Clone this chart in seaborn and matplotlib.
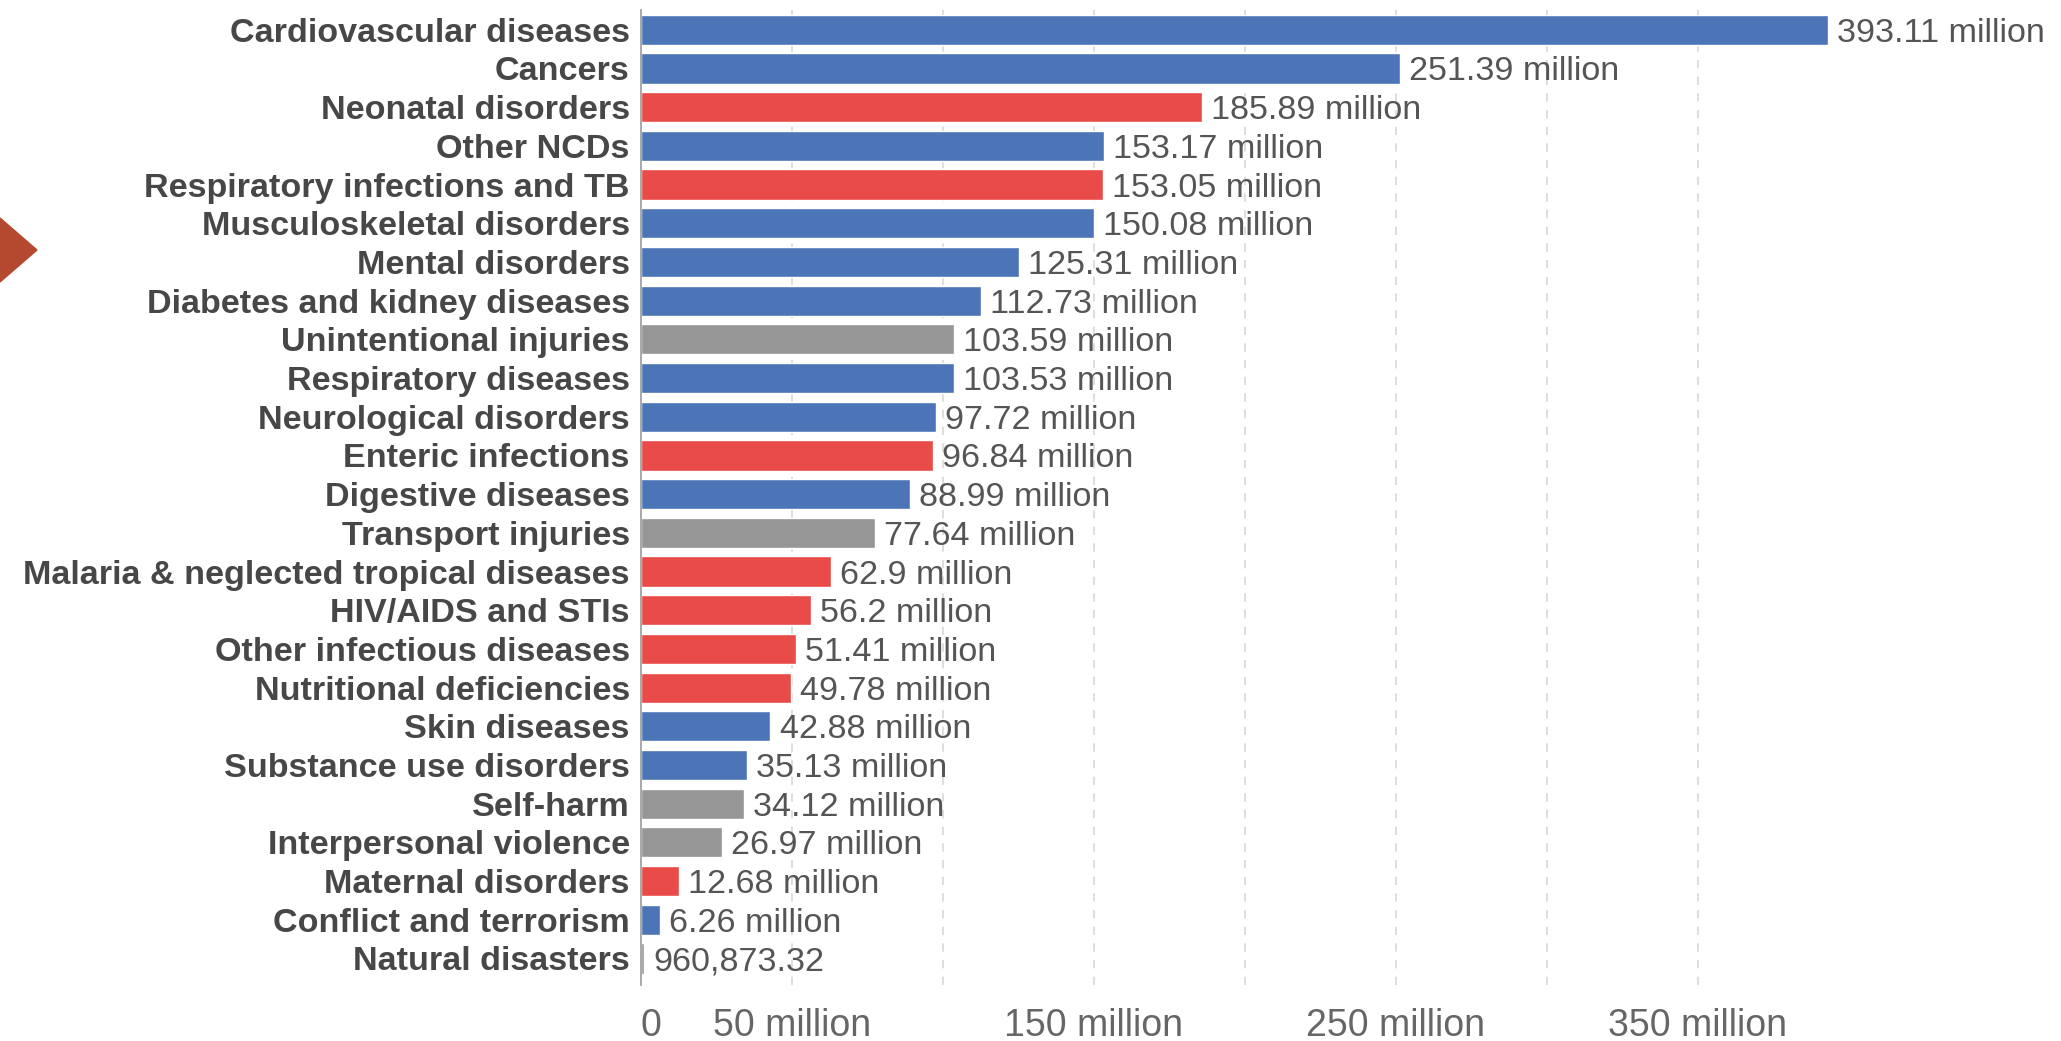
import numpy as np
import pandas as pd
import matplotlib.pyplot as plt
from matplotlib.patches import Polygon
import seaborn as sns

# causes and DALYs (millions)
causes = [
    'Cardiovascular diseases', 'Cancers', 'Neonatal disorders', 'Other NCDs',
    'Respiratory infections and TB', 'Musculoskeletal disorders',
    'Mental disorders', 'Diabetes and kidney diseases',
    'Unintentional injuries', 'Respiratory diseases', 'Neurological disorders',
    'Enteric infections', 'Digestive diseases', 'Transport injuries',
    'Malaria & neglected tropical diseases', 'HIV/AIDS and STIs',
    'Other infectious diseases', 'Nutritional deficiencies', 'Skin diseases',
    'Substance use disorders', 'Self-harm', 'Interpersonal violence',
    'Maternal disorders', 'Conflict and terrorism', 'Natural disasters',
]
dalys_millions = [
    393.11, 251.39, 185.89, 153.17, 153.05, 150.08, 125.31, 112.73,
    103.59, 103.53, 97.72, 96.84, 88.99, 77.64, 62.9, 56.2, 51.41, 49.78,
    42.88, 35.13, 34.12, 26.97, 12.68, 6.26, 0.96087332,
]
groups = [
    'ncd', 'ncd', 'comm', 'ncd', 'comm', 'ncd', 'ncd', 'ncd',
    'inj', 'ncd', 'ncd', 'comm', 'ncd', 'inj', 'comm', 'comm', 'comm', 'comm',
    'ncd', 'ncd', 'inj', 'inj', 'comm', 'ncd', 'inj',
]
tick_values = [0, 50, 100, 150, 200, 250, 300, 350]
tick_labels = ['0', '50 million', '', '150 million', '', '250 million', '', '350 million']

palette = {'ncd': '#4b75b6', 'comm': '#e84b48', 'inj': '#969696'}

df = pd.DataFrame({'cause': causes, 'dalys': dalys_millions, 'group': groups})


def fmt(v):
    if v < 1:
        return f'{v * 1e6:,.2f}'
    s = f'{v:.2f}'.rstrip('0').rstrip('.')
    return f'{s} million'


sns.set_style('white')
plt.rcParams['font.family'] = ['Liberation Sans', 'DejaVu Sans']

fig = plt.figure(figsize=(20.61, 10.41), dpi=100)
ax = fig.add_axes([0.311, 0.054, 0.674, 0.936])

sns.barplot(
    data=df, x='dalys', y='cause', hue='group', palette=palette,
    dodge=False, width=0.78, legend=False, ax=ax, saturation=1,
)

# value labels at bar ends
for i, v in enumerate(dalys_millions):
    ax.text(v + 3, i, fmt(v), va='center_baseline', ha='left',
            fontsize=24.6, color='#555555')

ax.set_xlim(0, 460)
ax.set_ylim(24.68, -0.5)
ax.set_xticks(tick_values)
ax.set_xticklabels(tick_labels, fontsize=27, color='#666666')
ax.get_xticklabels()[0].set_ha('left')
ax.set_xlabel('')
ax.set_ylabel('')
ax.set_yticks(range(len(causes)))
ax.set_yticklabels(causes, fontsize=24.6, color='#474747', fontweight='bold')
ax.tick_params(axis='both', length=0)
ax.tick_params(axis='x', pad=17)
ax.tick_params(axis='y', pad=8)

# dashed grid
for t in tick_values[1:]:
    ax.axvline(t, color='#d8d8d8', ls=(0, (5, 5)), lw=1.2, zorder=0)

for s in ['top', 'right', 'bottom']:
    ax.spines[s].set_visible(False)
ax.spines['left'].set_color('#999999')
ax.spines['left'].set_linewidth(1.2)

# arrow marker on left edge
fig.patches.append(Polygon(
    [[0, 1 - 218 / 1041], [37 / 2061, 1 - 250 / 1041], [0, 1 - 282 / 1041]],
    closed=True, transform=fig.transFigure, color='#b5492f', figure=fig,
))

plt.savefig('out.png', dpi=100)
